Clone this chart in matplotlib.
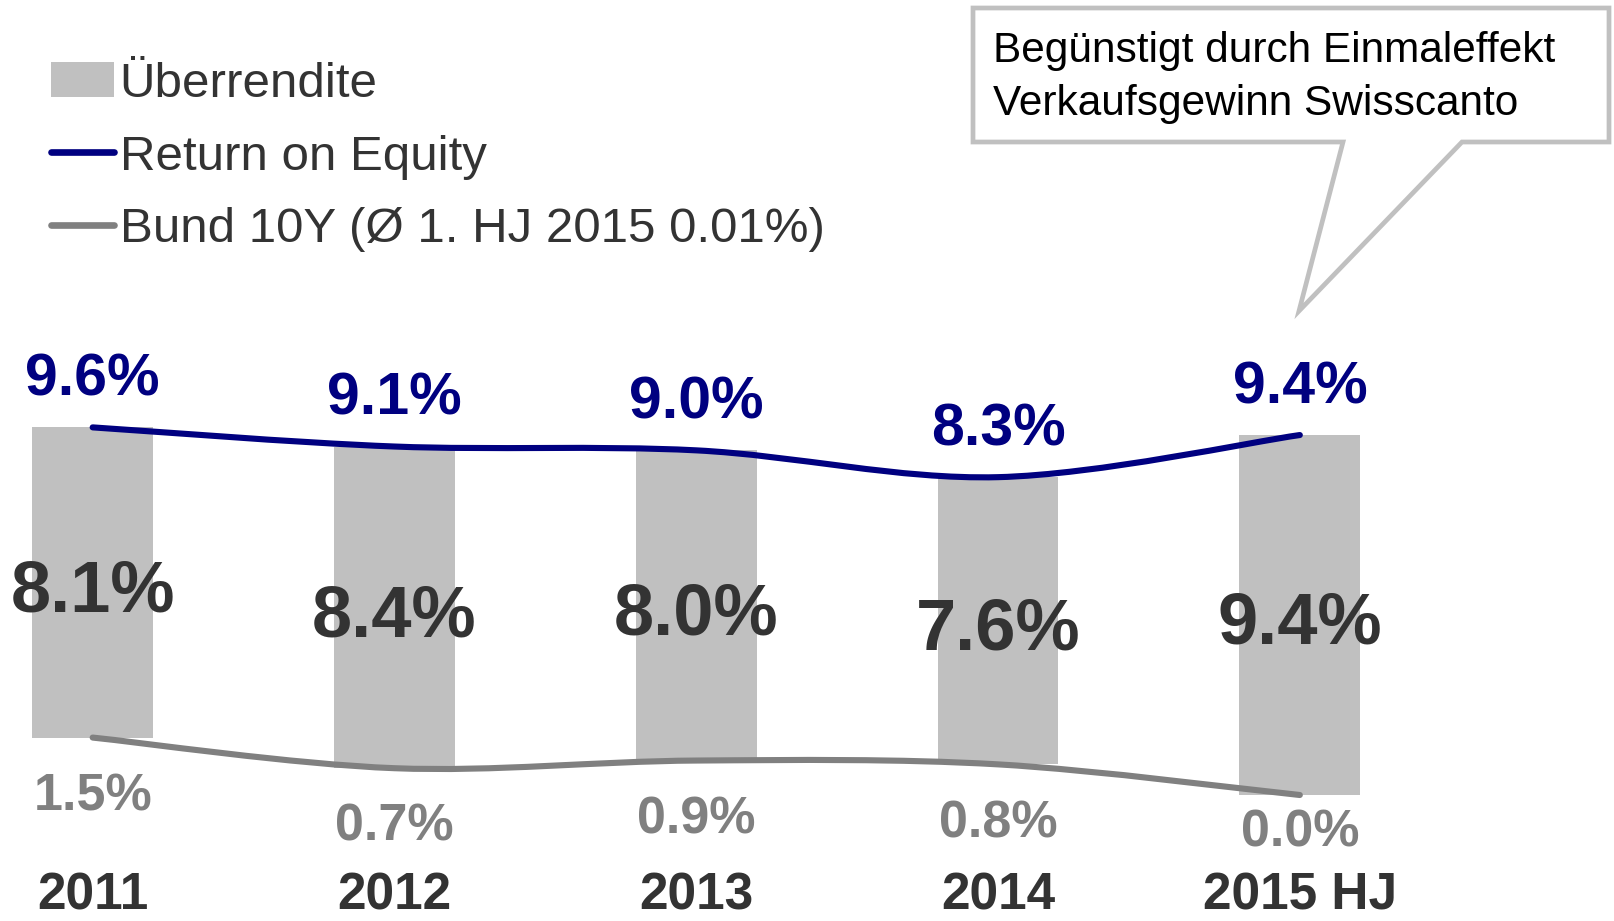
import numpy as np
import matplotlib
matplotlib.use('Agg')
import matplotlib.pyplot as plt
from matplotlib.path import Path
from matplotlib.patches import PathPatch, Patch, Polygon
from matplotlib.lines import Line2D

plt.rcParams['font.family'] = ['Liberation Sans', 'DejaVu Sans']

# data
years = ['2011', '2012', '2013', '2014', '2015 HJ']
roe = [9.6, 9.1, 9.0, 8.3, 9.4]
bund = [1.5, 0.7, 0.9, 0.8, 0.0]
excess = [8.1, 8.4, 8.0, 7.6, 9.4]

NAVY = '#000080'
GREY = '#808080'
BAR = '#c0c0c0'
DARK = '#333333'


def smooth_path(xs, ys):
    # excel-style smoothed line: cubic bezier segments, catmull-rom tangents
    pts = np.column_stack([xs, ys]).astype(float)
    ext = np.vstack([pts[0], pts, pts[-1]])
    verts = [pts[0]]
    codes = [Path.MOVETO]
    for i in range(1, len(ext) - 2):
        p0, p1, p2, p3 = ext[i - 1], ext[i], ext[i + 1], ext[i + 2]
        verts += [p1 + (p2 - p0) / 6, p2 - (p3 - p1) / 6, p2]
        codes += [Path.CURVE4] * 3
    return Path(verts, codes)


fig = plt.figure(figsize=(16.14, 9.21), dpi=100)
ax = fig.add_axes([0, 0, 1, 1])
ax.set_xlim(-0.307, 5.041)
ax.set_ylim(-3.29, 20.76)
ax.axis('off')

x = np.arange(len(years))
low = np.array(bund)
high = np.array(roe)
ax.bar(x, high - low, bottom=low, width=0.4, color=BAR, zorder=1)

for ys, col in [(roe, NAVY), (bund, GREY)]:
    ax.add_patch(PathPatch(smooth_path(x, ys), facecolor='none', edgecolor=col,
                           lw=4.4, capstyle='round', joinstyle='round', zorder=3))

bund_pad = [43, 42, 43, 43, 27]
for i in range(len(years)):
    ax.annotate(f'{roe[i]:.1f}%', (x[i], roe[i]), xytext=(0, 34),
                textcoords='offset points', ha='center', va='center',
                fontsize=42.5, fontweight='bold', color=NAVY, zorder=4)
    ax.annotate(f'{excess[i]:.1f}%', (x[i], (roe[i] + bund[i]) / 2), xytext=(0, -7),
                textcoords='offset points', ha='center', va='center',
                fontsize=52, fontweight='bold', color=DARK, zorder=4)
    ax.annotate(f'{bund[i]:.1f}%', (x[i], bund[i]), xytext=(0, -bund_pad[i]),
                textcoords='offset points', ha='center', va='center',
                fontsize=37.5, fontweight='bold', color=GREY, zorder=4)
    ax.text(x[i], 0.012, years[i], transform=ax.get_xaxis_transform(),
            ha='center', va='baseline', fontsize=37, fontweight='bold', color=DARK)

handles = [Patch(facecolor=BAR),
           Line2D([], [], color=NAVY, lw=4.8, solid_capstyle='round'),
           Line2D([], [], color=GREY, lw=4.8, solid_capstyle='round')]
labels = ['Überrendite', 'Return on Equity', 'Bund 10Y (Ø 1. HJ 2015 0.01%)']
fig.legend(handles, labels, loc='upper left', bbox_to_anchor=(51 / 1614, 1 - 62 / 921),
           frameon=False, fontsize=35.5, labelcolor=DARK, borderpad=0, borderaxespad=0,
           handlelength=1.27, handleheight=0.72, handletextpad=0.12, labelspacing=0.56)

# callout box, drawn in pixel coords
ov = fig.add_axes([0, 0, 1, 1])
ov.set_xlim(0, 1614)
ov.set_ylim(921, 0)
ov.axis('off')
callout = [(973, 8), (1609, 8), (1609, 142), (1462, 142), (1299, 311),
           (1343, 142), (973, 142)]
ov.add_patch(Polygon(callout, closed=True, facecolor='white', edgecolor=BAR,
                     lw=3.4, joinstyle='miter'))
ov.text(993, 51, 'Begünstigt durch Einmaleffekt', fontsize=30.5, color='black', va='center')
ov.text(993, 104, 'Verkaufsgewinn Swisscanto', fontsize=30.5, color='black', va='center')

fig.savefig('out.png', dpi=100)
